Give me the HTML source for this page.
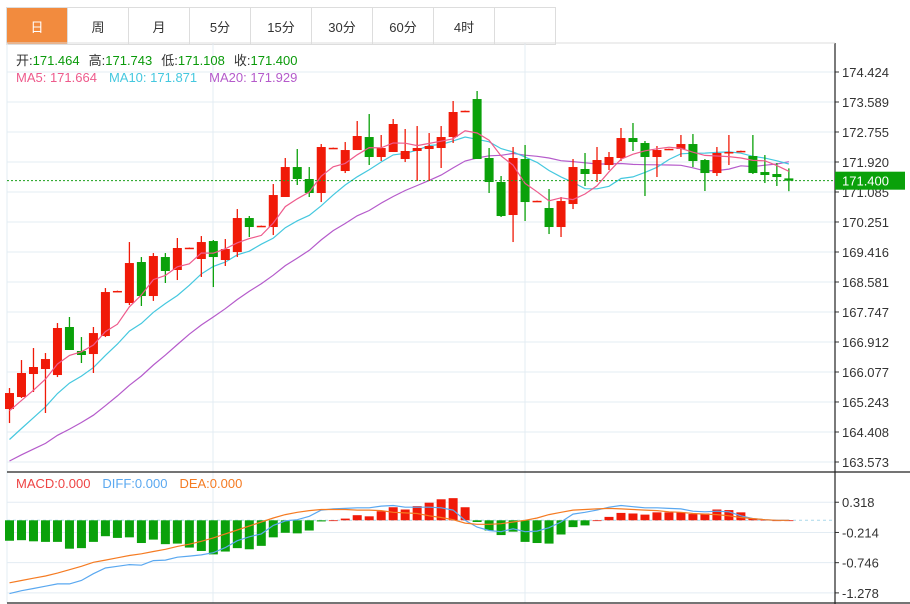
<!DOCTYPE html>
<html><head><meta charset="utf-8">
<style>
body{margin:0;width:910px;height:604px;overflow:hidden;background:#fff;font-family:"Liberation Sans","Noto Sans CJK SC",sans-serif;}
#tabs{position:absolute;left:6px;top:7px;height:36px;display:flex;border:1px solid #ddd;border-right:none;}
.tab{width:60px;height:36px;border-right:1px solid #ddd;display:flex;align-items:center;justify-content:center;font-size:13px;color:#333;cursor:pointer}
.tab.on{background:#F28B3E;color:#fff}
svg{position:absolute;left:0;top:0}
</style></head><body>
<div id="tabs">
<div class="tab on">日</div>
<div class="tab">周</div>
<div class="tab">月</div>
<div class="tab">5分</div>
<div class="tab">15分</div>
<div class="tab">30分</div>
<div class="tab">60分</div>
<div class="tab">4时</div>
<div class="tab"></div>
</div>
<svg id="chart" width="910" height="604" font-family="Liberation Sans, Noto Sans CJK SC, sans-serif"></svg>
<script>
const opens=[165.047,165.381,166.021,166.160,165.993,167.329,166.661,166.577,167.078,168.325,167.996,169.137,168.191,169.276,168.915,169.527,169.221,169.721,169.193,169.415,170.361,170.139,170.111,170.946,171.780,171.447,171.057,172.309,171.669,172.253,172.615,172.059,172.198,172.003,172.226,172.281,172.309,172.615,173.339,173.672,172.031,171.363,170.445,172.003,170.834,170.640,170.111,170.751,171.725,171.586,171.836,172.031,172.587,172.448,172.059,172.281,172.281,172.420,171.975,171.613,172.198,172.226,172.087,171.641,171.586,171.464];
const highs=[165.631,166.410,166.744,166.605,167.440,167.607,167.050,167.329,168.413,168.340,169.693,169.276,169.387,169.387,169.805,169.540,169.860,169.749,169.777,170.611,170.417,170.150,171.307,172.031,172.281,171.780,172.420,172.320,172.476,173.060,173.255,172.671,173.116,172.838,172.921,172.726,172.921,173.617,173.350,173.895,172.309,171.530,172.337,172.393,170.845,171.168,170.946,172.003,172.170,172.337,172.198,172.866,173.005,172.504,172.365,172.290,172.671,172.698,172.003,172.337,172.671,172.236,172.671,172.114,171.892,171.743];
const lows=[164.657,165.353,165.520,164.936,165.937,166.689,166.327,166.049,167.050,168.320,167.940,167.913,168.055,168.553,168.636,169.515,168.720,168.441,169.026,169.276,169.833,170.130,169.888,170.946,171.280,170.946,170.806,172.300,171.613,172.253,171.836,171.947,172.198,171.919,171.391,171.391,171.753,172.448,173.330,172.003,171.057,170.389,169.693,170.278,170.825,169.916,169.833,170.611,171.252,171.363,171.697,171.947,172.226,170.973,171.502,172.270,172.059,171.780,171.113,171.530,171.836,172.216,171.586,171.335,171.252,171.108];
const closes=[165.492,166.049,166.216,166.438,167.301,166.689,166.550,167.161,168.302,168.332,169.109,168.191,169.304,168.887,169.527,169.535,169.693,169.276,169.499,170.361,170.111,170.145,171.001,171.780,171.447,171.057,172.337,172.315,172.253,172.643,172.059,172.309,172.977,172.226,172.309,172.365,172.615,173.311,173.345,172.003,171.363,170.417,172.031,170.806,170.840,170.111,170.834,171.780,171.586,171.975,172.059,172.587,172.476,172.059,172.253,172.287,172.420,171.947,171.613,172.170,172.198,172.230,171.613,171.558,171.502,171.400];
const priorCloses=[162.6,163.0,163.3,162.8,163.2,162.9,163.1,163.0,162.9,163.2,163.0,163.2,163.4,163.6,163.8,164.6,164.8,164.9,165.2];
const macdHist=[-0.36,-0.35,-0.37,-0.38,-0.38,-0.50,-0.49,-0.38,-0.28,-0.31,-0.30,-0.40,-0.34,-0.42,-0.41,-0.48,-0.54,-0.60,-0.55,-0.49,-0.51,-0.45,-0.30,-0.22,-0.23,-0.18,-0.02,0.00,0.03,0.09,0.07,0.16,0.23,0.19,0.25,0.31,0.37,0.39,0.23,-0.03,-0.18,-0.26,-0.20,-0.38,-0.40,-0.41,-0.25,-0.12,-0.09,0.00,0.06,0.13,0.12,0.10,0.14,0.14,0.14,0.11,0.12,0.19,0.18,0.14,0.03,0.01,0.00,0.00];
const diffVals=[-1.29,-1.24,-1.20,-1.16,-1.12,-1.12,-1.06,-0.94,-0.84,-0.81,-0.78,-0.79,-0.71,-0.70,-0.65,-0.63,-0.61,-0.57,-0.48,-0.36,-0.29,-0.24,-0.09,-0.01,0.01,0.07,0.18,0.20,0.21,0.22,0.22,0.25,0.26,0.23,0.23,0.23,0.22,0.18,0.00,-0.12,-0.18,-0.20,-0.15,-0.20,-0.19,-0.13,-0.03,0.11,0.14,0.18,0.23,0.26,0.24,0.22,0.22,0.21,0.20,0.16,0.15,0.16,0.15,0.08,0.03,0.01,0.00,0.00];
const deaVals=[-1.10,-1.06,-1.02,-0.98,-0.93,-0.87,-0.81,-0.74,-0.70,-0.66,-0.62,-0.59,-0.55,-0.51,-0.46,-0.42,-0.37,-0.31,-0.24,-0.17,-0.10,-0.03,0.04,0.10,0.14,0.17,0.19,0.19,0.19,0.18,0.18,0.17,0.14,0.13,0.12,0.08,0.05,0.01,-0.05,-0.07,-0.07,-0.06,-0.03,0.00,0.04,0.10,0.14,0.18,0.19,0.20,0.21,0.20,0.19,0.18,0.17,0.15,0.14,0.12,0.11,0.10,0.08,0.05,0.03,0.01,0.00,0.00];
const priceTicks=["174.424","173.589","172.755","171.920","171.085","170.251","169.416","168.581","167.747","166.912","166.077","165.243","164.408","163.573"];
const macdTicks=["0.318","-0.214","-0.746","-1.278"];

const NS="http://www.w3.org/2000/svg";
const svg=document.getElementById('chart');
function mk(tag,attrs,parent){const e=document.createElementNS(NS,tag);for(const k in attrs)e.setAttribute(k,attrs[k]);(parent||svg).appendChild(e);return e;}
const RED="#F01A08",GREEN="#0AA10A";
const pTop=174.424,pBot=163.573,yTop=72,yBot=462;
function yP(p){return yTop+(pTop-p)*(yBot-yTop)/(pTop-pBot);}
function xI(i){return 9.5+i*11.99;}
const mZero=520.3,mScale=56.8;
function yM(v){return mZero-v*mScale;}
const axisX=835;

// grid
priceTicks.forEach(function(t){const v=parseFloat(t);
 const g=mk('line',{x1:7,x2:axisX,y1:yP(v),y2:yP(v),stroke:'#e3ecf3','stroke-width':1});
 
 
 mk('line',{x1:axisX,x2:axisX+4,y1:yP(v),y2:yP(v),stroke:'#333'});
 const tx=mk('text',{x:842,y:yP(v)+5,'font-size':13,fill:'#333'});tx.textContent=t;
 
 
});
macdTicks.forEach(function(t){const v=parseFloat(t);
 const g=mk('line',{x1:7,x2:axisX,y1:yM(v),y2:yM(v),stroke:'#e3ecf3'});
 
 
 mk('line',{x1:axisX,x2:axisX+4,y1:yM(v),y2:yM(v),stroke:'#333'});
 const tx=mk('text',{x:842,y:yM(v)+5,'font-size':13,fill:'#333'});tx.textContent=t;
 
 
});
[213,525].forEach(function(x){const l=mk('line',{x1:x,x2:x,y1:43,y2:603,stroke:'#e3ecf3'});
 
 });
mk('line',{x1:7,x2:7,y1:43,y2:603,stroke:'#e3ecf3'});
mk('line',{x1:7,x2:axisX,y1:472,y2:472,stroke:'#222','stroke-width':1.2});
mk('line',{x1:7,x2:axisX,y1:603,y2:603,stroke:'#222','stroke-width':1.2});
mk('line',{x1:axisX,x2:axisX,y1:43,y2:604,stroke:'#222','stroke-width':1.2});
mk('line',{x1:axisX,x2:910,y1:472,y2:472,stroke:'#222','stroke-width':1.2});
mk('line',{x1:axisX,x2:910,y1:603,y2:603,stroke:'#222','stroke-width':1.2});
mk('line',{x1:7,x2:axisX,y1:43,y2:43,stroke:'#ddd'});

// MA lines
const all=priorCloses.concat(closes);
function ma(n){const out=[];for(let i=0;i<closes.length;i++){const j=i+priorCloses.length;let s=0;for(let k=j-n+1;k<=j;k++)s+=all[k];out.push(s/n);}return out;}
function line(vals,yf,color,name){let d='';vals.forEach(function(v,i){d+=(i?'L':'M')+xI(i).toFixed(1)+','+yf(v).toFixed(1);});
 const p=mk('path',{d:d,fill:'none',stroke:color,'stroke-width':1.2});
 
 }
line(ma(20),yP,'#B55BCB','ma20-line');
line(ma(10),yP,'#45C8DF','ma10-line');

// candles
closes.forEach(function(c,i){const o=opens[i];const up=c>=o;const col=up?RED:GREEN;const x=xI(i);
 const g=mk('g',{});
 
 
 mk('line',{x1:x,x2:x,y1:yP(highs[i]),y2:yP(lows[i]),stroke:col,'stroke-width':1.3},g);
 const top=yP(Math.max(o,c)),bot=yP(Math.min(o,c));
 mk('rect',{x:x-4.5,y:top,width:9,height:Math.max(1.5,bot-top),fill:col},g);
});
line(ma(5),yP,'#EE5B8C','ma5-line');

// current price line
const last=closes[closes.length-1];
const pl=mk('line',{x1:7,x2:axisX,y1:yP(last),y2:yP(last),stroke:'#1aa01a','stroke-dasharray':'2,2'});


const pb=mk('rect',{x:axisX,y:yP(last)-9,width:70,height:18,fill:'#0AA10A'});


const pt=mk('text',{x:842,y:yP(last)+5,'font-size':13,fill:'#fff'});pt.textContent=last.toFixed(3);

// MACD
mk('line',{x1:7,x2:axisX,y1:mZero,y2:mZero,stroke:'#aad8ea','stroke-dasharray':'3,3'});
macdHist.forEach(function(v,i){const x=xI(i);const y0=yM(0),y1=yM(v);
 const r=mk('rect',{x:x-4.5,y:Math.min(y0,y1),width:9,height:Math.max(0.8,Math.abs(y1-y0)),fill:v>=0?RED:GREEN});
 
 
});
line(diffVals,yM,'#5AA8F0','diff-line');
line(deaVals,yM,'#F57B22','dea-line');
</script>
<svg width="910" height="604" font-family="Liberation Sans, Noto Sans CJK SC, sans-serif" font-size="13">
<text x="16" y="65"><tspan fill="#333">开:</tspan><tspan fill="#0a9a0a">171.464</tspan><tspan fill="#333" dx="9">高:</tspan><tspan fill="#0a9a0a">171.743</tspan><tspan fill="#333" dx="9">低:</tspan><tspan fill="#0a9a0a">171.108</tspan><tspan fill="#333" dx="9">收:</tspan><tspan fill="#0a9a0a">171.400</tspan></text>
<text x="16" y="82"><tspan fill="#EE5B8C">MA5: 171.664</tspan><tspan fill="#45C8DF" dx="12">MA10: 171.871</tspan><tspan fill="#B55BCB" dx="12">MA20: 171.929</tspan></text>
<text x="16" y="488"><tspan fill="#EE4444">MACD:0.000</tspan><tspan fill="#5AA8F0" dx="12">DIFF:0.000</tspan><tspan fill="#F57B22" dx="12">DEA:0.000</tspan></text>
</svg>
</body></html>
